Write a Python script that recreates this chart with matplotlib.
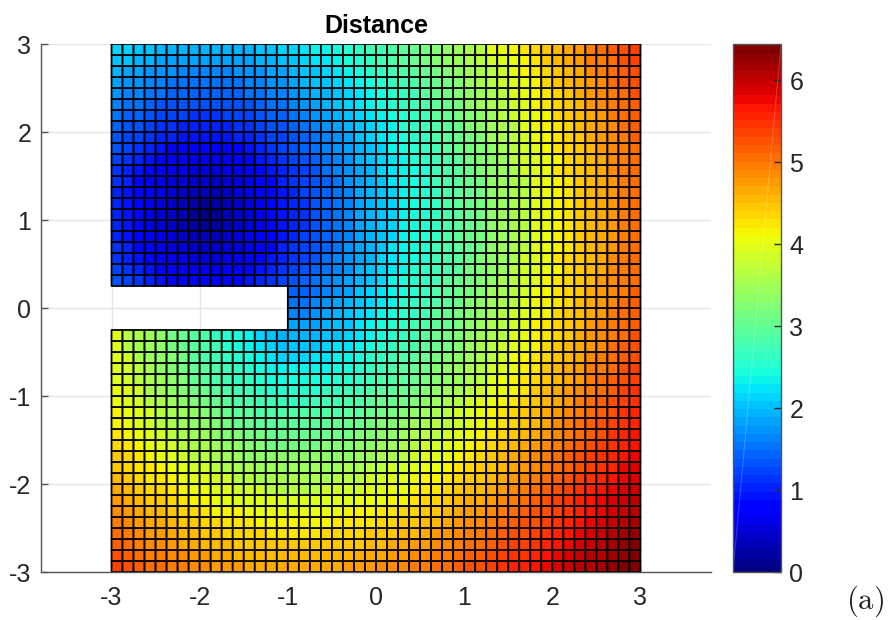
import numpy as np
import matplotlib
matplotlib.use('Agg')
import matplotlib.pyplot as plt

plt.rcParams['font.family'] = ['Liberation Sans', 'DejaVu Sans']
plt.rcParams['axes.unicode_minus'] = False
plt.rcParams['mathtext.fontset'] = 'cm'

nan = float('nan')

# distance values read per cell, rows that repeat above and below the source are shared
band_15 = [2.1,2.1,2.0,2.0,1.9,1.9,1.9,1.9,1.9,1.9,1.9,1.9,1.9,2.0,2.0,2.1,2.1,2.2,2.3,2.3,2.4,2.5,2.6,2.7,2.7,2.8,2.9,3.0,3.1,3.2,3.3,3.4,3.5,3.6,3.8,3.9,4.0,4.1,4.2,4.3,4.4,4.5,4.6,4.8,4.9,5.0,5.1,5.2]
band_14 = [2.0,2.0,1.9,1.9,1.8,1.8,1.8,1.8,1.8,1.8,1.8,1.8,1.8,1.9,1.9,2.0,2.0,2.1,2.2,2.2,2.3,2.4,2.5,2.6,2.7,2.8,2.9,3.0,3.1,3.2,3.3,3.4,3.5,3.6,3.7,3.8,3.9,4.0,4.1,4.3,4.4,4.5,4.6,4.8,4.8,4.9,5.1,5.2]
band_13 = [1.9,1.8,1.8,1.7,1.7,1.7,1.6,1.6,1.6,1.6,1.6,1.7,1.7,1.7,1.8,1.8,1.9,2.0,2.0,2.1,2.2,2.3,2.4,2.5,2.6,2.7,2.8,2.9,3.0,3.1,3.2,3.3,3.4,3.5,3.6,3.7,3.9,4.0,4.1,4.2,4.3,4.4,4.5,4.7,4.8,4.9,5.0,5.1]
band_12 = [1.8,1.7,1.7,1.6,1.6,1.5,1.5,1.5,1.5,1.5,1.5,1.5,1.6,1.6,1.7,1.7,1.8,1.9,2.0,2.0,2.1,2.2,2.3,2.4,2.5,2.6,2.7,2.8,2.9,3.0,3.1,3.2,3.4,3.5,3.6,3.7,3.8,3.9,4.0,4.2,4.3,4.4,4.5,4.6,4.7,4.9,5.0,5.1]
band_11 = [1.7,1.6,1.6,1.5,1.5,1.4,1.4,1.4,1.4,1.4,1.4,1.4,1.5,1.5,1.6,1.6,1.7,1.8,1.9,1.9,2.0,2.1,2.2,2.3,2.4,2.5,2.6,2.7,2.9,3.0,3.1,3.2,3.3,3.4,3.5,3.6,3.8,3.9,4.0,4.1,4.2,4.3,4.5,4.6,4.7,4.8,4.9,5.1]
band_10 = [1.6,1.5,1.5,1.4,1.3,1.3,1.3,1.3,1.3,1.3,1.3,1.3,1.3,1.4,1.5,1.5,1.6,1.7,1.8,1.9,2.0,2.1,2.2,2.3,2.4,2.5,2.6,2.7,2.8,2.9,3.0,3.1,3.3,3.4,3.5,3.6,3.7,3.8,4.0,4.1,4.2,4.3,4.4,4.6,4.7,4.8,4.9,5.0]
band_9 = [1.5,1.4,1.4,1.3,1.2,1.2,1.2,1.1,1.1,1.1,1.2,1.2,1.2,1.3,1.4,1.4,1.5,1.6,1.7,1.8,1.9,2.0,2.1,2.2,2.3,2.4,2.5,2.6,2.7,2.9,3.0,3.1,3.2,3.3,3.4,3.6,3.7,3.8,3.9,4.0,4.2,4.3,4.4,4.5,4.6,4.8,4.9,5.0]
band_8 = [1.4,1.3,1.3,1.2,1.1,1.1,1.0,1.0,1.0,1.0,1.0,1.1,1.1,1.2,1.3,1.3,1.4,1.5,1.6,1.7,1.8,1.9,2.0,2.1,2.2,2.3,2.5,2.6,2.7,2.8,2.9,3.0,3.2,3.3,3.4,3.5,3.6,3.8,3.9,4.0,4.1,4.2,4.4,4.5,4.6,4.7,4.9,5.0]
band_7 = [1.3,1.2,1.2,1.1,1.0,1.0,0.9,0.9,0.9,0.9,0.9,1.0,1.0,1.1,1.2,1.2,1.3,1.4,1.5,1.6,1.7,1.8,2.0,2.1,2.2,2.3,2.4,2.5,2.6,2.8,2.9,3.0,3.1,3.2,3.4,3.5,3.6,3.7,3.9,4.0,4.1,4.2,4.3,4.5,4.6,4.7,4.8,5.0]
band_6 = [1.3,1.2,1.1,1.0,0.9,0.8,0.8,0.8,0.8,0.8,0.8,0.8,0.9,1.0,1.1,1.2,1.3,1.4,1.5,1.6,1.7,1.8,1.9,2.0,2.1,2.3,2.4,2.5,2.6,2.7,2.9,3.0,3.1,3.2,3.3,3.5,3.6,3.7,3.8,4.0,4.1,4.2,4.3,4.4,4.6,4.7,4.8,4.9]
band_5 = [1.2,1.1,1.0,0.9,0.8,0.7,0.7,0.6,0.6,0.6,0.7,0.7,0.8,0.9,1.0,1.1,1.2,1.3,1.4,1.5,1.6,1.7,1.9,2.0,2.1,2.2,2.3,2.5,2.6,2.7,2.8,2.9,3.1,3.2,3.3,3.4,3.6,3.7,3.8,3.9,4.0,4.2,4.3,4.4,4.5,4.7,4.8,4.9]
band_4 = [1.1,1.0,0.9,0.8,0.7,0.6,0.6,0.5,0.5,0.5,0.6,0.6,0.7,0.8,0.9,1.0,1.1,1.2,1.3,1.5,1.6,1.7,1.8,1.9,2.1,2.2,2.3,2.4,2.5,2.7,2.8,2.9,3.0,3.2,3.3,3.4,3.5,3.7,3.8,3.9,4.1,4.2,4.3,4.4,4.5,4.7,4.8,4.9]
band_3 = [1.1,1.0,0.8,0.7,0.6,0.5,0.5,0.4,0.4,0.4,0.5,0.5,0.6,0.7,0.8,1.0,1.1,1.2,1.3,1.4,1.5,1.7,1.8,1.9,2.0,2.2,2.3,2.4,2.5,2.7,2.8,2.9,3.0,3.1,3.3,3.4,3.5,3.6,3.8,3.9,4.0,4.1,4.3,4.4,4.5,4.6,4.8,4.9]
band_2 = [1.0,0.9,0.8,0.7,0.6,0.5,0.4,0.3,0.3,0.3,0.4,0.5,0.6,0.7,0.8,0.9,1.0,1.2,1.3,1.4,1.5,1.6,1.8,1.9,2.0,2.1,2.3,2.4,2.5,2.6,2.8,2.9,3.0,3.1,3.3,3.4,3.5,3.6,3.8,3.9,4.0,4.1,4.3,4.4,4.5,4.6,4.8,4.9]
band_1 = [1.0,0.9,0.8,0.6,0.5,0.4,0.3,0.2,0.1,0.2,0.3,0.4,0.5,0.6,0.8,0.9,1.0,1.1,1.3,1.4,1.5,1.6,1.8,1.9,2.0,2.1,2.3,2.4,2.5,2.6,2.8,2.9,3.0,3.1,3.3,3.4,3.5,3.6,3.8,3.9,4.0,4.1,4.3,4.4,4.5,4.6,4.8,4.9]
band_0 = [1.0,0.9,0.8,0.6,0.5,0.4,0.3,0.1,0.0,0.1,0.3,0.4,0.5,0.6,0.8,0.9,1.0,1.1,1.3,1.4,1.5,1.6,1.8,1.9,2.0,2.1,2.3,2.4,2.5,2.6,2.8,2.9,3.0,3.1,3.3,3.4,3.5,3.6,3.8,3.9,4.0,4.1,4.3,4.4,4.5,4.6,4.8,4.9]

upper_rows = [band_15, band_14, band_13, band_12, band_11, band_10, band_9, band_8,
              band_7, band_6, band_5, band_4, band_3, band_2, band_1, band_0,
              band_1, band_2, band_3, band_4, band_5, band_6]

# the four rows beside the slit, only the part right of x = -1
beside_slit = [
    [1.4,1.4,1.5,1.6,1.7,1.8,2.0,2.1,2.2,2.3,2.4,2.5,2.6,2.8,2.9,3.0,3.1,3.2,3.4,3.5,3.6,3.7,3.9,4.0,4.1,4.2,4.3,4.5,4.6,4.7,4.8,5.0],
    [1.5,1.5,1.6,1.7,1.8,1.9,2.0,2.1,2.2,2.3,2.5,2.6,2.7,2.8,2.9,3.0,3.2,3.3,3.4,3.5,3.6,3.8,3.9,4.0,4.1,4.2,4.4,4.5,4.6,4.7,4.9,5.0],
    [1.6,1.6,1.7,1.8,1.9,2.0,2.1,2.2,2.3,2.4,2.5,2.6,2.7,2.9,3.0,3.1,3.2,3.3,3.4,3.6,3.7,3.8,3.9,4.0,4.2,4.3,4.4,4.5,4.6,4.8,4.9,5.0],
    [1.8,1.8,1.8,1.9,2.0,2.0,2.2,2.3,2.4,2.5,2.6,2.7,2.8,2.9,3.0,3.1,3.3,3.4,3.5,3.6,3.7,3.8,4.0,4.1,4.2,4.3,4.4,4.6,4.7,4.8,4.9,5.0],
]

lower_rows = [
    [3.8,3.6,3.5,3.4,3.3,3.1,3.0,2.9,2.8,2.6,2.5,2.4,2.3,2.1,2.0,1.9,1.9,1.9,1.9,2.0,2.0,2.1,2.2,2.3,2.4,2.5,2.6,2.7,2.9,3.0,3.1,3.2,3.3,3.4,3.5,3.6,3.8,3.9,4.0,4.1,4.2,4.3,4.5,4.6,4.7,4.8,4.9,5.1],
    [3.8,3.6,3.5,3.4,3.3,3.1,3.0,2.9,2.8,2.7,2.5,2.4,2.3,2.2,2.1,2.0,2.0,2.0,2.0,2.1,2.2,2.2,2.3,2.4,2.5,2.6,2.7,2.8,2.9,3.0,3.1,3.2,3.4,3.5,3.6,3.7,3.8,3.9,4.0,4.2,4.3,4.4,4.5,4.6,4.7,4.9,5.0,5.1],
    [3.8,3.7,3.5,3.4,3.3,3.2,3.1,2.9,2.8,2.7,2.6,2.5,2.4,2.3,2.2,2.1,2.1,2.1,2.2,2.2,2.3,2.3,2.4,2.5,2.6,2.7,2.8,2.9,3.0,3.1,3.2,3.3,3.4,3.5,3.6,3.7,3.9,4.0,4.1,4.2,4.3,4.4,4.5,4.7,4.8,4.9,5.0,5.1],
    [3.8,3.7,3.6,3.5,3.3,3.2,3.1,3.0,2.9,2.8,2.7,2.6,2.5,2.4,2.3,2.3,2.3,2.3,2.3,2.3,2.4,2.4,2.5,2.6,2.7,2.8,2.9,3.0,3.1,3.2,3.3,3.4,3.5,3.6,3.7,3.8,3.9,4.0,4.1,4.3,4.4,4.5,4.6,4.8,4.8,4.9,5.1,5.2],
    [3.8,3.7,3.6,3.5,3.4,3.3,3.2,3.0,2.9,2.8,2.7,2.6,2.6,2.5,2.4,2.4,2.4,2.4,2.4,2.4,2.5,2.5,2.6,2.7,2.8,2.8,2.9,3.0,3.1,3.2,3.3,3.4,3.5,3.6,3.8,3.9,4.0,4.1,4.2,4.3,4.4,4.5,4.6,4.8,4.9,5.0,5.1,5.2],
    [3.9,3.8,3.7,3.5,3.4,3.3,3.2,3.1,3.0,2.9,2.8,2.7,2.7,2.6,2.5,2.5,2.5,2.5,2.5,2.6,2.6,2.7,2.7,2.8,2.9,2.9,3.0,3.1,3.2,3.3,3.4,3.5,3.6,3.7,3.8,3.9,4.0,4.1,4.3,4.4,4.5,4.6,4.7,4.8,4.9,5.0,5.2,5.3],
    [3.9,3.8,3.7,3.6,3.5,3.4,3.3,3.2,3.1,3.0,2.9,2.8,2.8,2.7,2.7,2.6,2.6,2.6,2.7,2.7,2.7,2.8,2.8,2.9,3.0,3.0,3.1,3.2,3.3,3.4,3.5,3.6,3.7,3.8,3.9,4.0,4.1,4.2,4.3,4.4,4.5,4.6,4.8,4.9,5.0,5.1,5.2,5.3],
    [4.0,3.9,3.8,3.7,3.6,3.5,3.4,3.3,3.2,3.1,3.0,2.9,2.9,2.8,2.8,2.8,2.8,2.8,2.8,2.8,2.8,2.9,2.9,3.0,3.1,3.1,3.2,3.3,3.4,3.5,3.6,3.7,3.8,3.9,4.0,4.1,4.2,4.3,4.4,4.5,4.6,4.7,4.8,4.9,5.0,5.1,5.3,5.4],
    [4.0,3.9,3.8,3.7,3.6,3.5,3.4,3.3,3.3,3.2,3.1,3.0,3.0,2.9,2.9,2.9,2.9,2.9,2.9,2.9,3.0,3.0,3.0,3.1,3.2,3.2,3.3,3.4,3.5,3.6,3.6,3.7,3.8,3.9,4.0,4.1,4.2,4.3,4.4,4.5,4.7,4.8,4.9,5.0,5.1,5.2,5.3,5.4],
    [4.1,4.0,3.9,3.8,3.7,3.6,3.5,3.4,3.4,3.3,3.2,3.2,3.1,3.1,3.0,3.0,3.0,3.0,3.0,3.0,3.1,3.1,3.2,3.2,3.3,3.3,3.4,3.5,3.6,3.6,3.7,3.8,3.9,4.0,4.1,4.2,4.3,4.4,4.5,4.6,4.7,4.8,4.9,5.0,5.1,5.3,5.4,5.5],
    [4.2,4.1,4.0,3.9,3.8,3.7,3.6,3.5,3.5,3.4,3.3,3.3,3.2,3.2,3.1,3.1,3.1,3.1,3.1,3.2,3.2,3.2,3.3,3.3,3.4,3.4,3.5,3.6,3.7,3.7,3.8,3.9,4.0,4.1,4.2,4.3,4.4,4.5,4.6,4.7,4.8,4.9,5.0,5.1,5.2,5.3,5.4,5.5],
    [4.3,4.2,4.1,4.0,3.9,3.8,3.7,3.6,3.6,3.5,3.4,3.4,3.3,3.3,3.3,3.3,3.3,3.3,3.3,3.3,3.3,3.3,3.4,3.4,3.5,3.5,3.6,3.7,3.8,3.8,3.9,4.0,4.1,4.2,4.3,4.4,4.5,4.6,4.7,4.8,4.9,5.0,5.1,5.2,5.3,5.4,5.5,5.6],
    [4.3,4.2,4.1,4.1,4.0,3.9,3.8,3.7,3.7,3.6,3.5,3.5,3.5,3.4,3.4,3.4,3.4,3.4,3.4,3.4,3.4,3.5,3.5,3.6,3.6,3.7,3.7,3.8,3.9,3.9,4.0,4.1,4.2,4.3,4.3,4.4,4.5,4.6,4.7,4.8,4.9,5.0,5.1,5.2,5.3,5.4,5.6,5.7],
    [4.4,4.3,4.2,4.1,4.1,4.0,3.9,3.8,3.8,3.7,3.7,3.6,3.6,3.5,3.5,3.5,3.5,3.5,3.5,3.5,3.6,3.6,3.6,3.7,3.7,3.8,3.8,3.9,4.0,4.0,4.1,4.2,4.3,4.3,4.4,4.5,4.6,4.7,4.8,4.9,5.0,5.1,5.2,5.3,5.4,5.5,5.6,5.7],
    [4.5,4.4,4.3,4.2,4.2,4.1,4.0,3.9,3.9,3.8,3.8,3.7,3.7,3.7,3.6,3.6,3.6,3.6,3.6,3.7,3.7,3.7,3.7,3.8,3.8,3.9,3.9,4.0,4.1,4.1,4.2,4.3,4.4,4.4,4.5,4.6,4.7,4.8,4.9,5.0,5.1,5.2,5.3,5.4,5.5,5.6,5.7,5.8],
    [4.6,4.5,4.4,4.3,4.3,4.2,4.1,4.0,4.0,3.9,3.9,3.8,3.8,3.8,3.8,3.8,3.8,3.8,3.8,3.8,3.8,3.8,3.9,3.9,3.9,4.0,4.0,4.1,4.2,4.2,4.3,4.4,4.5,4.5,4.6,4.7,4.8,4.9,5.0,5.1,5.2,5.3,5.4,5.5,5.6,5.7,5.8,5.9],
    [4.7,4.6,4.5,4.4,4.4,4.3,4.2,4.2,4.1,4.0,4.0,4.0,3.9,3.9,3.9,3.9,3.9,3.9,3.9,3.9,3.9,4.0,4.0,4.0,4.1,4.1,4.2,4.2,4.3,4.3,4.4,4.5,4.6,4.6,4.7,4.8,4.9,5.0,5.1,5.1,5.2,5.3,5.4,5.5,5.6,5.7,5.8,5.9],
    [4.8,4.7,4.6,4.5,4.5,4.4,4.3,4.3,4.2,4.2,4.1,4.1,4.1,4.0,4.0,4.0,4.0,4.0,4.0,4.0,4.1,4.1,4.1,4.1,4.2,4.2,4.3,4.3,4.4,4.4,4.5,4.6,4.7,4.7,4.8,4.9,5.0,5.1,5.1,5.2,5.3,5.4,5.5,5.6,5.7,5.8,5.9,6.0],
    [4.9,4.8,4.7,4.6,4.6,4.5,4.4,4.4,4.3,4.3,4.2,4.2,4.2,4.2,4.1,4.1,4.1,4.1,4.1,4.2,4.2,4.2,4.2,4.3,4.3,4.3,4.4,4.4,4.5,4.6,4.6,4.7,4.8,4.8,4.9,5.0,5.1,5.1,5.2,5.3,5.4,5.5,5.6,5.7,5.8,5.9,6.0,6.1],
    [5.0,4.9,4.8,4.7,4.7,4.6,4.5,4.5,4.4,4.4,4.4,4.3,4.3,4.3,4.3,4.3,4.3,4.3,4.3,4.3,4.3,4.3,4.3,4.4,4.4,4.5,4.5,4.6,4.6,4.7,4.7,4.8,4.9,4.9,5.0,5.1,5.2,5.2,5.3,5.4,5.5,5.6,5.7,5.8,5.9,6.0,6.1,6.2],
    [5.1,5.0,4.9,4.8,4.8,4.7,4.7,4.6,4.6,4.5,4.5,4.4,4.4,4.4,4.4,4.4,4.4,4.4,4.4,4.4,4.4,4.4,4.5,4.5,4.5,4.6,4.6,4.7,4.7,4.8,4.8,4.9,5.0,5.0,5.1,5.2,5.3,5.3,5.4,5.5,5.6,5.7,5.8,5.9,5.9,6.0,6.1,6.2],
    [5.2,5.1,5.0,4.9,4.9,4.8,4.8,4.7,4.7,4.6,4.6,4.6,4.5,4.5,4.5,4.5,4.5,4.5,4.5,4.5,4.5,4.6,4.6,4.6,4.7,4.7,4.7,4.8,4.8,4.9,4.9,5.0,5.1,5.1,5.2,5.3,5.4,5.4,5.5,5.6,5.7,5.8,5.9,5.9,6.0,6.1,6.2,6.3],
]

x_ticks = [-3, -2, -1, 0, 1, 2, 3]
y_ticks = [-3, -2, -1, 0, 1, 2, 3]
cbar_ticks = [0, 1, 2, 3, 4, 5, 6]

slit_rows = [[nan] * 16 + row for row in beside_slit]
distance = np.array(upper_rows + slit_rows + lower_rows)[::-1]
# table reads slightly low against the colour bar, and values sit mid-band for the 64 steps
distance = np.ma.masked_invalid(distance * 1.02 + 0.05)
x_edges = np.linspace(-3, 3, 49)
y_edges = np.linspace(-3, 3, 49)

W, H = 891, 620
dark = '#262626'
fig = plt.figure(figsize=(W / 100, H / 100), dpi=100)
ax = fig.add_axes([41 / W, (H - 572) / H, 670 / W, 528 / H])
# pcolor leaves the masked slit cells out, edges included
mesh = ax.pcolor(x_edges, y_edges, distance, cmap=plt.get_cmap('jet', 64), vmin=0, vmax=6.44,
                 edgecolors='k', linewidth=1.3)
ax.set_xlim(-3.8, 3.8)
ax.set_ylim(-3, 3)
ax.set_xticks(x_ticks)
ax.set_yticks(y_ticks)
ax.set_axisbelow(True)
ax.grid(True, color='#e6e6e6', linewidth=1)
ax.spines['top'].set_visible(False)
ax.spines['right'].set_visible(False)
for side in ['left', 'bottom']:
    ax.spines[side].set_color('#555555')
    ax.spines[side].set_linewidth(1)
ax.tick_params(direction='in', length=5, width=1, color='#555555', labelcolor=dark, labelsize=18)
ax.tick_params(axis='x', pad=10)
ax.tick_params(axis='y', pad=7)
ax.set_title('Distance', fontsize=18, fontweight='bold', color='k', pad=8)

cax = fig.add_axes([733 / W, (H - 572) / H, 48 / W, 528 / H])
cbar = fig.colorbar(mesh, cax=cax, ticks=cbar_ticks)
cbar.solids.set_edgecolor('face')
cbar.outline.set_edgecolor('#555555')
cbar.outline.set_linewidth(1)
cax.tick_params(direction='in', length=5, width=1, color=dark, labelcolor=dark, labelsize=18, pad=6)
# faint seam running across the colour strip
cax.plot([0, 1], [0, 1], transform=cax.transAxes, color='white', alpha=0.2, linewidth=0.8)

fig.text(865 / W, (H - 609) / H, r'$\mathrm{(a)}$', fontsize=22, ha='center', va='baseline', color='#222222')

fig.savefig('out.png', dpi=100)
